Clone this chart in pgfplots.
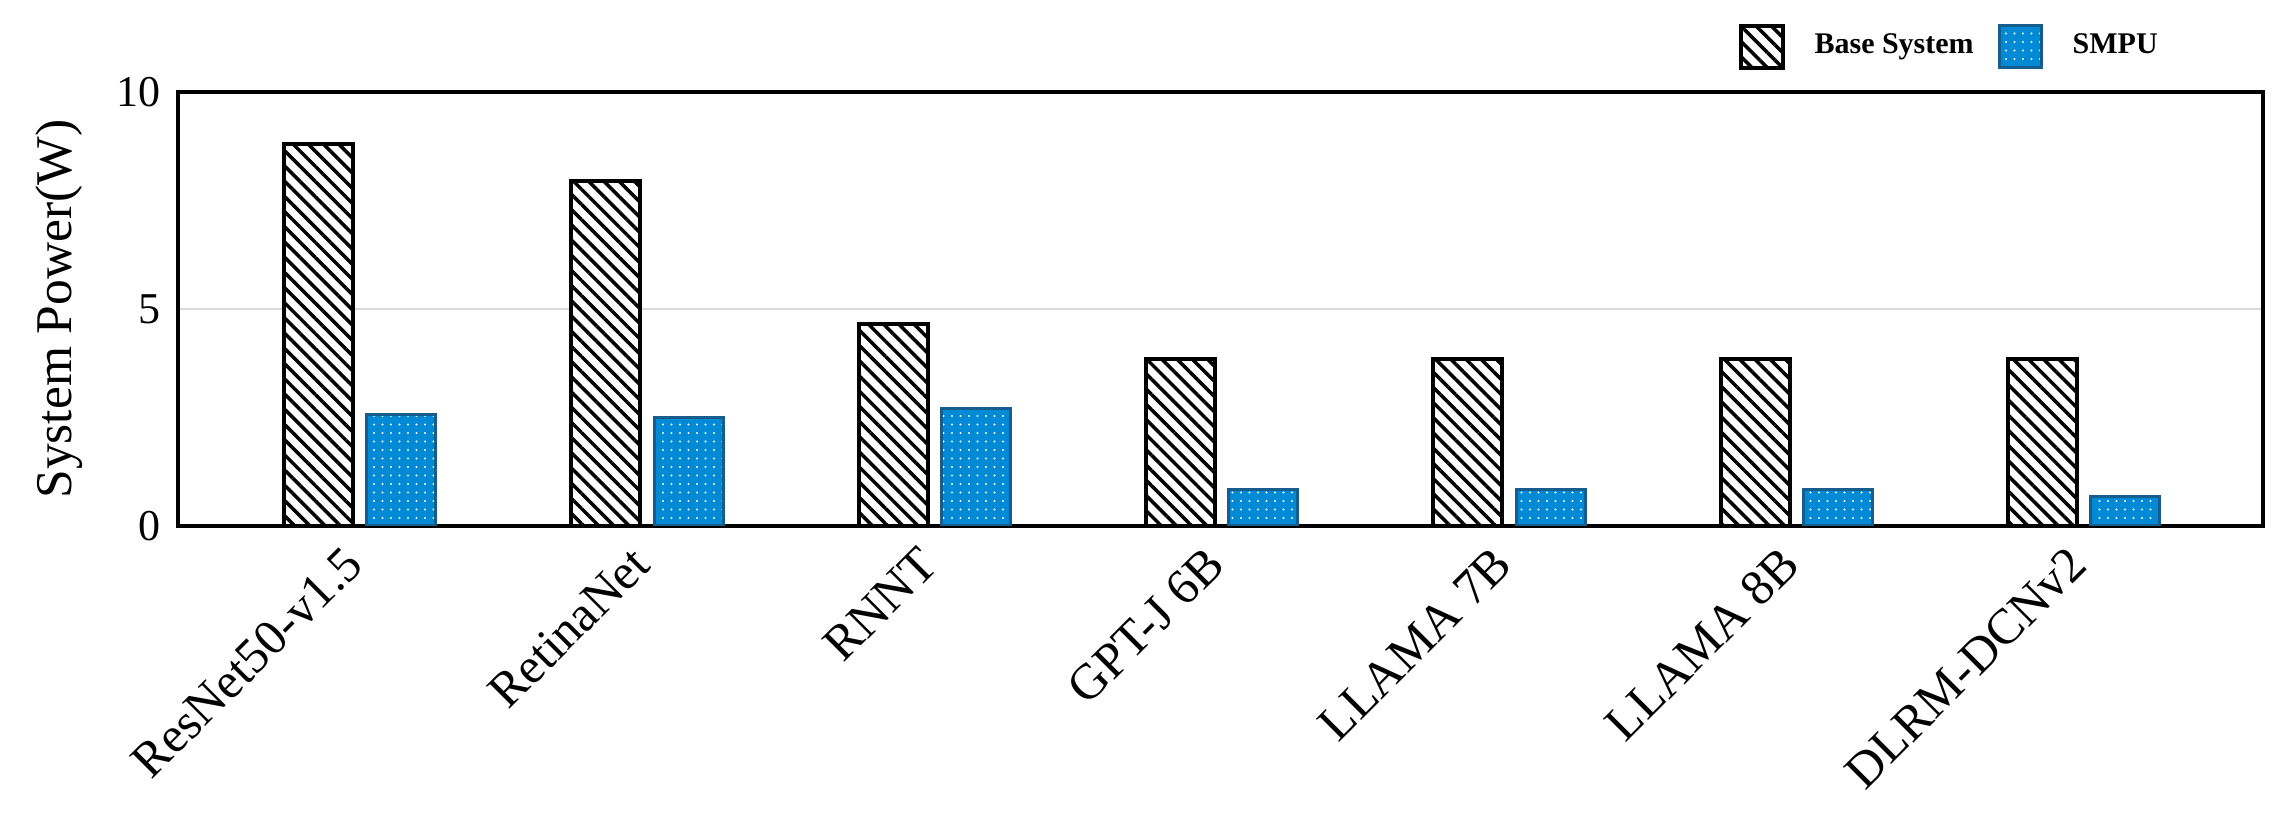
\documentclass[border=0pt]{standalone}
\usepackage{fontspec}
\setmainfont{Liberation Serif}
\usepackage{pgfplots}
\pgfplotsset{compat=1.18}
\usetikzlibrary{patterns.meta}

\definecolor{smpublue}{RGB}{0,137,212}
\definecolor{smpuedge}{RGB}{22,92,140}
\definecolor{gridgray}{RGB}{217,217,217}

\begin{document}
\begin{tikzpicture}
\begin{axis}[
    ybar,
    bar width=0.24,
    scale only axis,
    width=417pt,
    height=86.8pt,
    xmin=-0.633, xmax=6.623,
    ymin=0, ymax=10,
    xtick={0,...,6},
    xticklabels={ResNet50-v1.5,RetinaNet,RNNT,GPT-J 6B,LLAMA 7B,LLAMA 8B,DLRM-DCNv2},
    ytick={0,5,10},
    major tick length=0pt,
    ymajorgrids,
    grid style={gridgray, line width=0.5pt},
    axis line style={line width=0.7pt},
    /pgf/number format/assume math mode=true,
    yticklabel style={font=\fontsize{8.8}{10}\selectfont},
    xticklabel style={xshift=1.2pt, yshift=-3.5pt, rotate=45, anchor=east,
        font=\fontsize{10}{12}\selectfont},
    ylabel={System Power(W)},
    y label style={at={(axis description cs:-0.0568,0.5)}, anchor=center,
        font=\fontsize{10.3}{12}\selectfont},
    legend image code/.code={\draw[#1] (0pt,-4.2pt) rectangle (8.4pt,4.2pt);},
    legend style={draw=none, fill=none, inner sep=0pt, nodes={inner sep=0pt},
        at={(axis description cs:0.748,1.104)}, anchor=west,
        font=\bfseries\fontsize{6}{7}\selectfont,
        /tikz/every odd column/.append style={column sep=6pt},
        /tikz/every even column/.append style={column sep=4.8pt}},
    legend columns=2,
    legend cell align=left,
]
\addplot[bar shift=-0.144, draw=black, line width=0.8pt, fill=white,
    postaction={pattern={Lines[angle=-45,distance=2.15pt,line width=0.7pt]}, pattern color=black}]
    coordinates {(0,8.80) (1,7.95) (2,4.65) (3,3.85) (4,3.85) (5,3.85) (6,3.85)};
\addlegendentry{Base System}
\addplot[bar shift=0.144, draw=smpuedge, line width=0.6pt, fill=smpublue,
    postaction={pattern={Dots[distance=1.7pt,radius=0.22pt]}, pattern color=white}]
    coordinates {(0,2.56) (1,2.51) (2,2.70) (3,0.85) (4,0.85) (5,0.85) (6,0.69)};
\addlegendentry{SMPU}
\end{axis}
\pgfresetboundingbox
\path[use as bounding box] (current axis.south west) ++(-35.6pt,-59.6pt) rectangle ++(458pt,164.8pt);
\end{tikzpicture}
\end{document}
